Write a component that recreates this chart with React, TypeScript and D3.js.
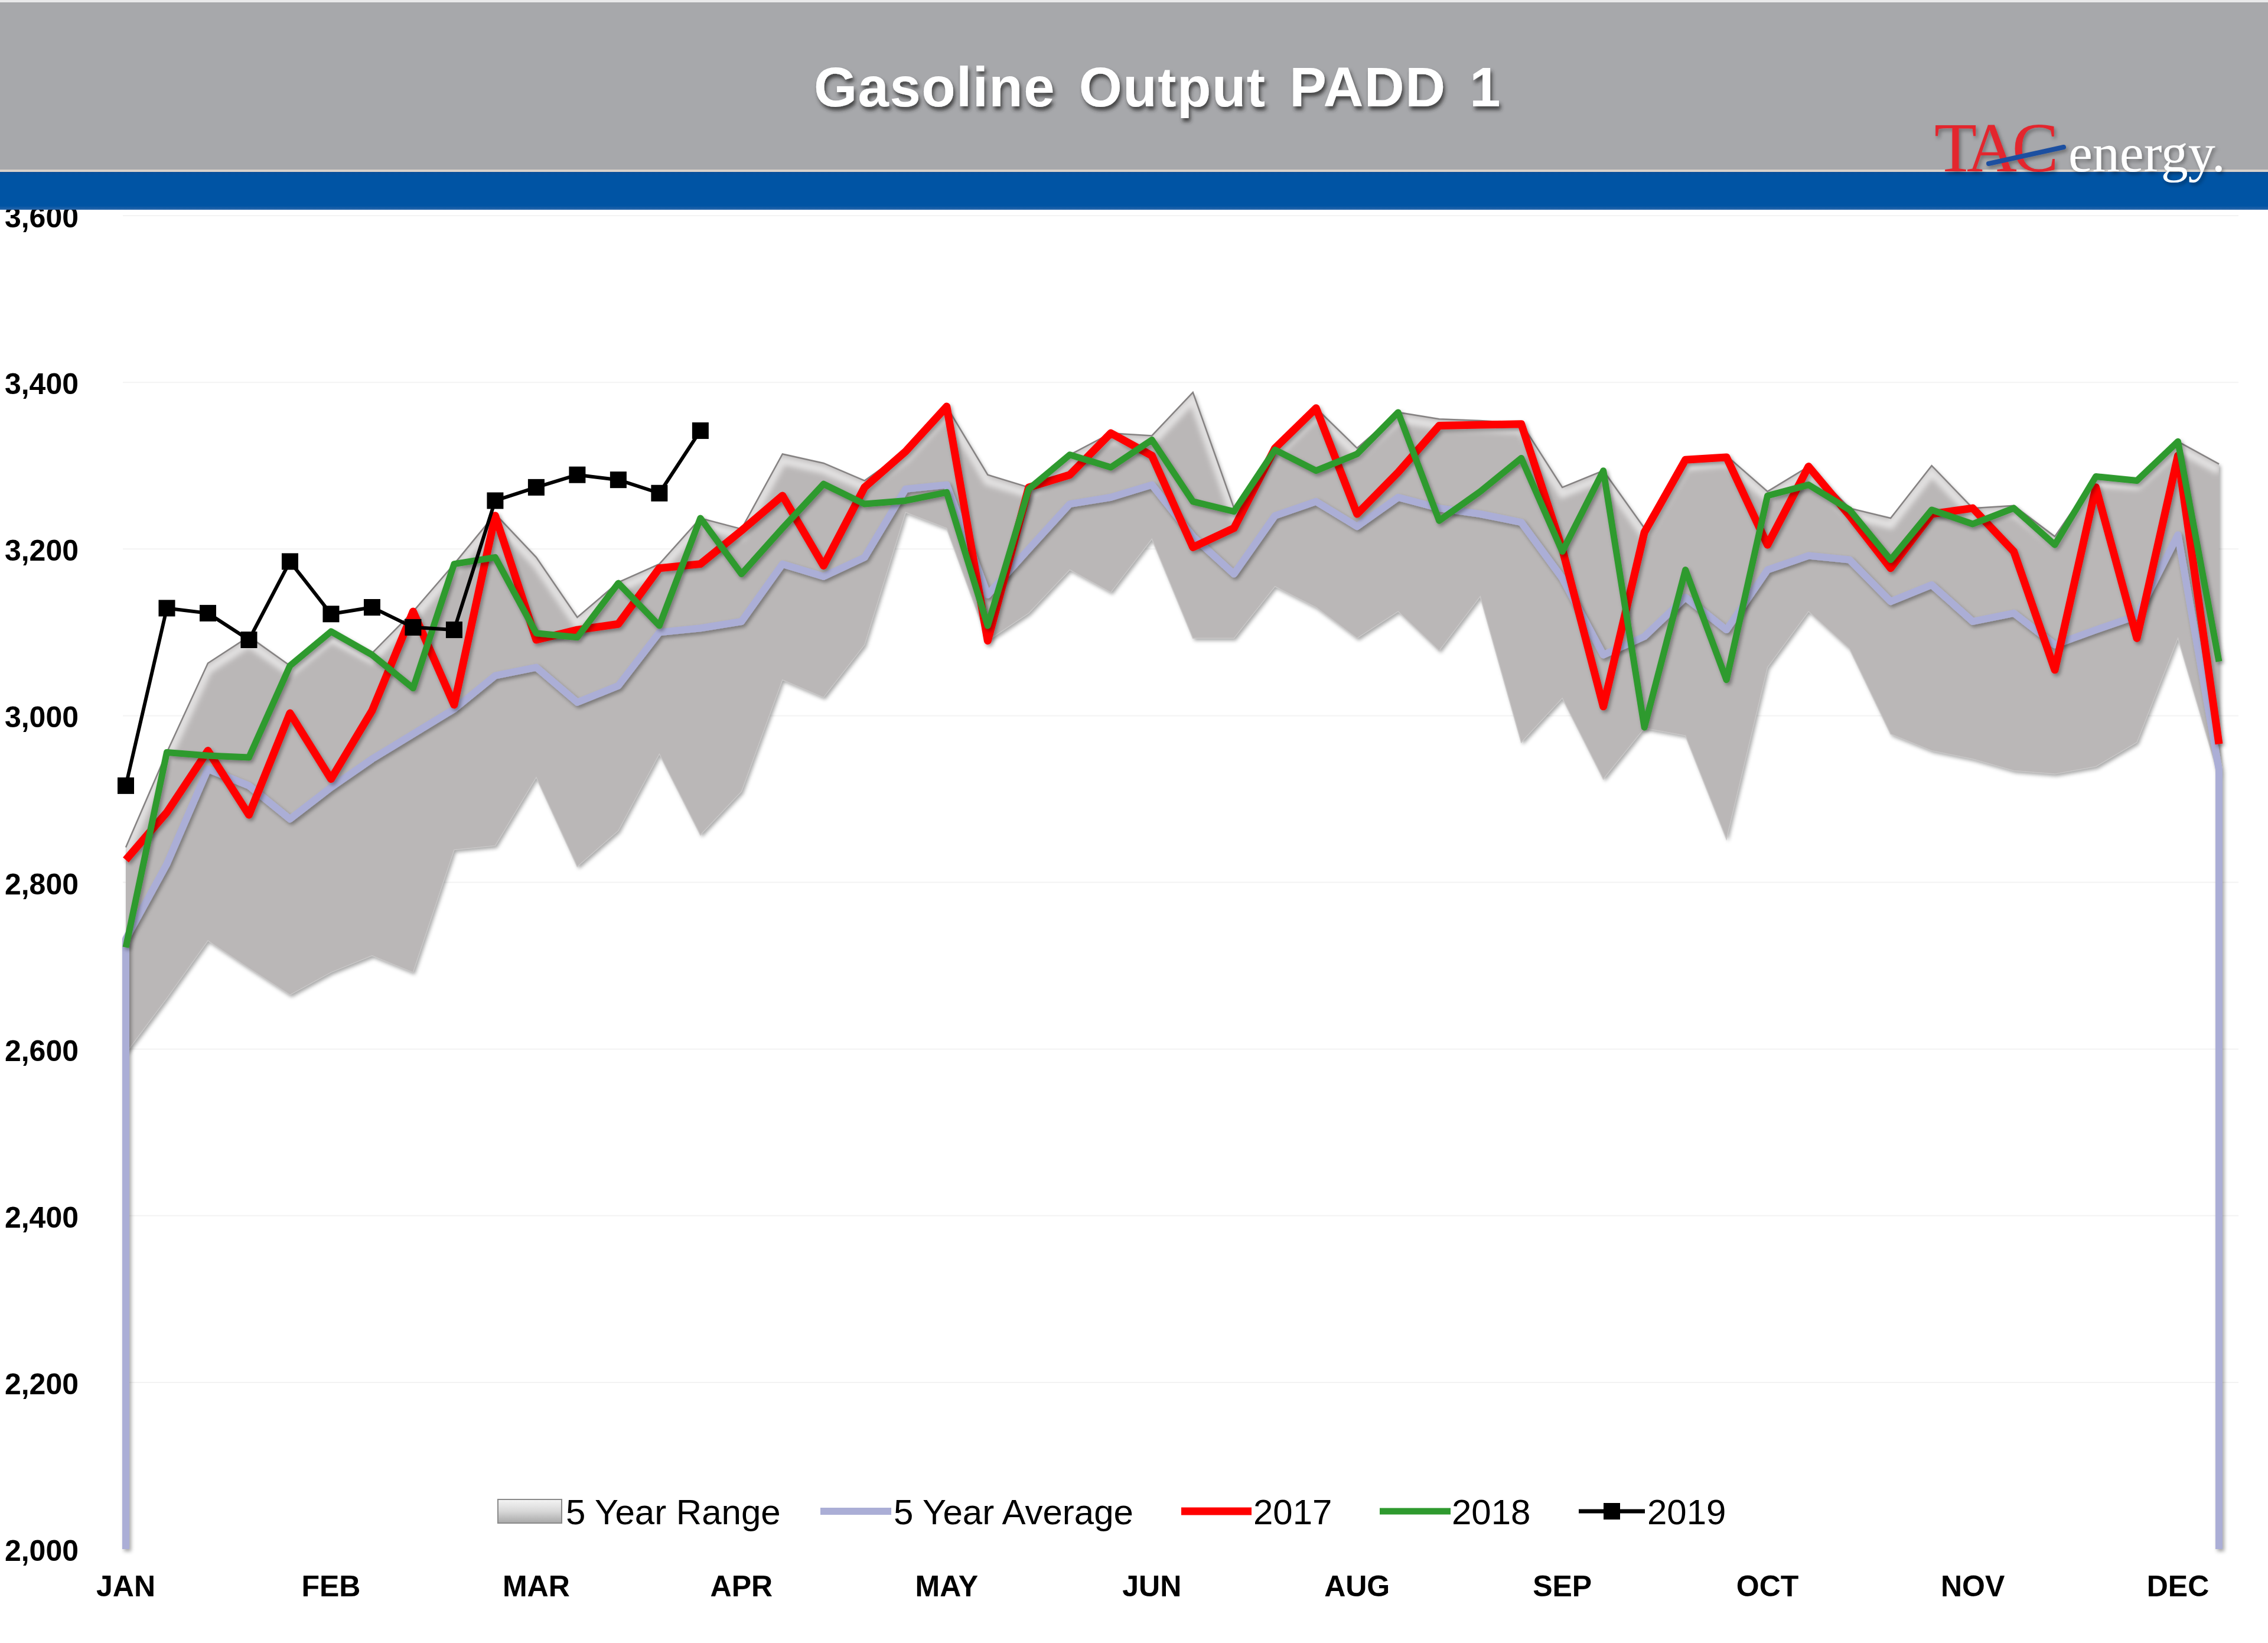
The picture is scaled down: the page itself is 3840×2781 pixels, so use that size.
import React from 'react';
import * as d3 from 'd3';

const W = 3840;
const H = 2781;

const monthLabels = ["JAN", "FEB", "MAR", "APR", "MAY", "JUN", "AUG", "SEP", "OCT", "NOV", "DEC"];
const monthLabelWeeks = [0, 5, 10, 15, 20, 25, 30, 35, 40, 45, 50];
const yTicks = [2000, 2200, 2400, 2600, 2800, 3000, 3200, 3400, 3600];

const rangeHigh = [2842, 2956, 3063, 3095, 3060, 3101, 3075, 3125, 3182, 3242,
  3190, 3118, 3160, 3182, 3237, 3224, 3314, 3303, 3282, 3317,
  3371, 3289, 3274, 3313, 3339, 3336, 3388, 3249, 3321, 3369,
  3321, 3364, 3356, 3354, 3351, 3274, 3294, 3225, 3307, 3312,
  3269, 3299, 3249, 3237, 3300, 3249, 3252, 3215, 3287, 3284,
  3329, 3302];
const rangeLow = [2595, 2661, 2730, 2697, 2665, 2692, 2712, 2692, 2839, 2844,
  2926, 2819, 2862, 2954, 2857, 2909, 3043, 3022, 3085, 3244,
  3225, 3090, 3123, 3175, 3148, 3212, 3093, 3093, 3155, 3130,
  3093, 3125, 3078, 3143, 2968, 3021, 2924, 2985, 2976, 2852,
  3058, 3125, 3080, 2978, 2958, 2948, 2934, 2930, 2939, 2968,
  3093, 2926];
const avg5 = [2732, 2822, 2936, 2916, 2876, 2914, 2948, 2978, 3008, 3048,
  3058, 3016, 3036, 3100, 3105, 3113, 3182, 3167, 3190, 3272,
  3277, 3145, 3200, 3254, 3262, 3277, 3215, 3170, 3240, 3257,
  3227, 3262, 3249, 3242, 3232, 3165, 3073, 3095, 3142, 3103,
  3175, 3192, 3187, 3137, 3157, 3113, 3123, 3085, 3103, 3120,
  3217, 2935];
const y2017 = [2827, 2884, 2958, 2881, 3003, 2924, 3006, 3125, 3013, 3240,
  3091, 3103, 3110, 3177, 3182, 3222, 3264, 3180, 3274, 3317,
  3371, 3090, 3274, 3289, 3339, 3312, 3202, 3225, 3321, 3369,
  3242, 3292, 3348, 3349, 3350, 3200, 3011, 3220, 3307, 3310,
  3205, 3299, 3240, 3177, 3242, 3249, 3197, 3055, 3274, 3093,
  3312, 2966];
const y2018 = [2722, 2956, 2952, 2950, 3060, 3101, 3073, 3033, 3182, 3190,
  3099, 3094, 3159, 3108, 3237, 3170, 3225, 3278, 3254, 3258,
  3268, 3108, 3272, 3313, 3298, 3331, 3257, 3245, 3319, 3294,
  3314, 3364, 3234, 3269, 3309, 3197, 3294, 2986, 3175, 3043,
  3264, 3277, 3247, 3187, 3247, 3230, 3249, 3205, 3287, 3282,
  3329, 3065];
const y2019 = [2916, 3129, 3123, 3091, 3185, 3122, 3130, 3106, 3103, 3258,
  3274, 3289, 3283, 3267, 3342];

const AXIS_FONT = "'Liberation Sans', Arial, sans-serif";

export default function App() {
  const x = d3.scaleLinear().domain([0, 51]).range([213, 3757]);
  const y = d3.scaleLinear().domain([2000, 3600]).range([2622, 365]);
  const weeks = d3.range(52);

  const areaD = d3.area<number>()
    .x(i => x(i)).y0(i => y(rangeLow[i])).y1(i => y(rangeHigh[i]))(weeks) || '';
  const topD = d3.line<number>().x(i => x(i)).y(i => y(rangeHigh[i]))(weeks) || '';
  const lowD = d3.line<number>().x(i => x(i)).y(i => y(rangeLow[i]))(weeks) || '';
  const seriesLine = (arr: number[]) =>
    d3.line<number>().x((_, i) => x(i)).y(d => y(d))(arr) || '';
  const avgPts: [number, number][] = [[0, 2000], ...avg5.map((v, i) => [i, v] as [number, number]), [51, 2000]];
  const avgD = d3.line<[number, number]>().x(d => x(d[0])).y(d => y(d[1]))(avgPts) || '';

  const legendY = 2558;

  return (
    <svg width={W} height={H} viewBox={`0 0 ${W} ${H}`}
      style={{ position: 'absolute', left: 0, top: 0, display: 'block', background: '#fff' }}>
      <defs>
        <filter id="shadow" x="-5%" y="-5%" width="110%" height="120%">
          <feDropShadow dx="3" dy="4" stdDeviation="3" floodColor="#000" floodOpacity="0.35" />
        </filter>
        <filter id="soft" x="-5%" y="-20%" width="110%" height="140%">
          <feGaussianBlur stdDeviation="5" />
        </filter>
        <filter id="titleShadow" x="-10%" y="-30%" width="120%" height="160%">
          <feDropShadow dx="3" dy="6" stdDeviation="3" floodColor="#2a2a2a" floodOpacity="0.8" />
        </filter>
        <clipPath id="rangeClip"><path d={areaD} /></clipPath>
        <linearGradient id="legRange" x1="0" y1="0" x2="0" y2="1">
          <stop offset="0" stopColor="#f4f4f4" />
          <stop offset="0.5" stopColor="#d8d8d8" />
          <stop offset="1" stopColor="#a8a8a8" />
        </linearGradient>
        <linearGradient id="blueGrad" x1="0" y1="0" x2="0" y2="1">
          <stop offset="0" stopColor="#0a4f9a" />
          <stop offset="0.1" stopColor="#0054a4" />
          <stop offset="0.9" stopColor="#0054a4" />
          <stop offset="1" stopColor="#2a66ab" />
        </linearGradient>
      </defs>

      <rect x={0} y={0} width={W} height={H} fill="#ffffff" />

      {/* gridlines */}
      {yTicks.slice(1).map(t => (
        <line key={t} x1={208} x2={3790} y1={y(t)} y2={y(t)} stroke="#f3f3f3" strokeWidth={2} />
      ))}

      {/* 5 year range */}
      <path d={areaD} fill="#bab7b7" filter="url(#shadow)" />
      <g clipPath="url(#rangeClip)">
        <path d={topD} transform="translate(0,11)" fill="none" stroke="#ffffff" strokeOpacity={0.6}
          strokeWidth={14} filter="url(#soft)" />
      </g>
      <path d={topD} fill="none" stroke="#858282" strokeWidth={2.5} />
      <path d={lowD} fill="none" stroke="#c9c7c7" strokeWidth={1.5} />
      <line x1={x(51) - 3} x2={x(51) - 3} y1={y(rangeLow[51])} y2={y(2000)} stroke="#8a8a8a" strokeWidth={3} />
      <line x1={x(0) - 4} x2={x(0) - 4} y1={y(rangeLow[0])} y2={y(2000)} stroke="#9a9a9a" strokeWidth={3} />

      {/* 5 year average */}
      <path d={avgD} fill="none" stroke="#abaed6" strokeWidth={12} strokeLinejoin="round" filter="url(#shadow)" />

      {/* axis line */}
      <line x1={208} x2={3762} y1={y(2000)} y2={y(2000)} stroke="#a9a9a9" strokeWidth={4} filter="url(#shadow)" />

      {/* 2017 / 2018 */}
      <path d={seriesLine(y2017)} fill="none" stroke="#ff0000" strokeWidth={13} strokeLinejoin="round" filter="url(#shadow)" />
      <path d={seriesLine(y2018)} fill="none" stroke="#2f9a2f" strokeWidth={11} strokeLinejoin="round" filter="url(#shadow)" />

      {/* 2019 */}
      <path d={seriesLine(y2019)} fill="none" stroke="#000000" strokeWidth={6} strokeLinejoin="round" />
      {y2019.map((v, i) => (
        <rect key={i} x={x(i) - 14} y={y(v) - 14} width={28} height={28} fill="#000000" />
      ))}

      {/* y axis labels */}
      {yTicks.map(t => (
        <text key={t} x={133} y={y(t) + 20} textAnchor="end" fontFamily={AXIS_FONT}
          fontWeight="bold" fontSize={50} fill="#000">{d3.format(',')(t)}</text>
      ))}

      {/* month labels */}
      {monthLabels.map((m, k) => (
        <text key={m} x={x(monthLabelWeeks[k])} y={2702} textAnchor="middle" fontFamily={AXIS_FONT}
          fontWeight="bold" fontSize={50} fill="#000">{m}</text>
      ))}

      {/* legend */}
      <g fontFamily={AXIS_FONT} fontSize={60} fill="#000">
        <rect x={843} y={legendY - 20} width={108} height={40} fill="url(#legRange)" stroke="#8a8a8a" strokeWidth={2} />
        <text x={958} y={legendY + 22}>5 Year Range</text>
        <line x1={1389} x2={1509} y1={legendY} y2={legendY} stroke="#abaed6" strokeWidth={12} />
        <text x={1513} y={legendY + 22}>5 Year Average</text>
        <line x1={2000} x2={2119} y1={legendY} y2={legendY} stroke="#ff0000" strokeWidth={13} />
        <text x={2122} y={legendY + 22}>2017</text>
        <line x1={2336} x2={2456} y1={legendY} y2={legendY} stroke="#2f9a2f" strokeWidth={11} />
        <text x={2458} y={legendY + 22}>2018</text>
        <line x1={2673} x2={2785} y1={legendY} y2={legendY} stroke="#000" strokeWidth={7} />
        <rect x={2729 - 14} y={legendY - 14} width={28} height={28} fill="#000" />
        <text x={2789} y={legendY + 22}>2019</text>
      </g>

      {/* header */}
      <rect x={0} y={0} width={W} height={290} fill="#a7a8ab" />
      <rect x={0} y={0} width={W} height={4} fill="#e9e9ea" />
      <rect x={0} y={287} width={W} height={4} fill="#d9d2ca" />
      <rect x={0} y={291} width={W} height={64} fill="url(#blueGrad)" />
      <text x={1960} y={180} textAnchor="middle" fontFamily={AXIS_FONT} fontWeight="bold"
        fontSize={94} letterSpacing={1.5} wordSpacing={12} fill="#ffffff" filter="url(#titleShadow)">
        Gasoline Output PADD 1
      </text>

      {/* logo */}
      <g filter="url(#shadow)">
        <text x={3275} y={290} fontFamily="'Liberation Serif', 'Times New Roman', serif" fontSize={118}
          letterSpacing={-8} fill="#e3262d">TAC</text>
        <text x={3502} y={290} fontFamily="'Liberation Serif', 'Times New Roman', serif" fontSize={92}
          fill="#ffffff">energy.</text>
        <line x1={3367} y1={277} x2={3494} y2={249} stroke="#1f4fa0" strokeWidth={8} strokeLinecap="round" />
      </g>
    </svg>
  );
}
